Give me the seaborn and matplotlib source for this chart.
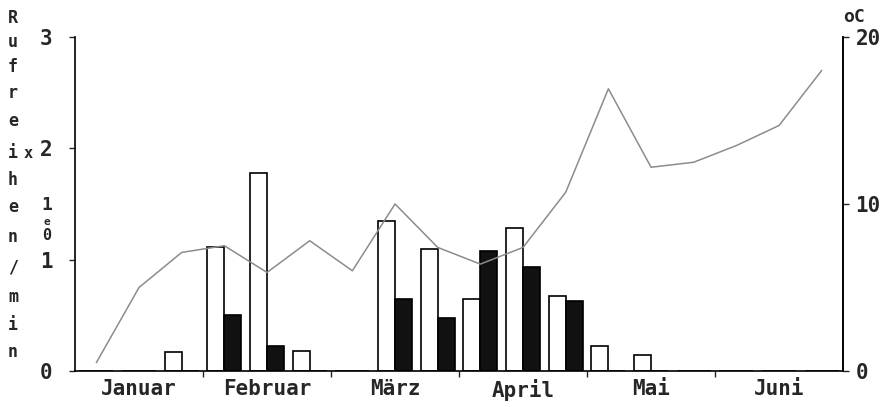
import numpy as np
import pandas as pd
import matplotlib
matplotlib.use('Agg')
import matplotlib.pyplot as plt
import seaborn as sns

# Dekaden Januar bis Juni (3 je Monat)
monate = ['Januar', 'Februar', 'März', 'April', 'Mai', 'Juni']
dekaden = list(range(18))
rufe_offen = [0, 0, 0.17, 1.11, 1.78, 0.18, 0, 1.35, 1.10, 0.65, 1.28, 0.67, 0.22, 0.14, 0, 0, 0, 0]
rufe_voll = [0, 0, 0, 0.50, 0.22, 0, 0, 0.65, 0.48, 1.08, 0.93, 0.63, 0, 0, 0, 0, 0, 0]
temperatur = [0.5, 5.0, 7.1, 7.5, 5.9, 7.8, 6.0, 10.0, 7.4, 6.4, 7.4, 10.7, 16.9, 12.2, 12.5, 13.5, 14.7, 18.0]

df = pd.DataFrame({
    'dekade': dekaden * 2,
    'wert': rufe_offen + rufe_voll,
    'serie': ['offen'] * 18 + ['voll'] * 18,
})

sns.set_style('ticks')
plt.rcParams['font.family'] = ['DejaVu Sans Mono', 'DejaVu Sans']
plt.rcParams['font.weight'] = 'bold'

fig = plt.figure(figsize=(8.91, 4.07), dpi=100)
ax = fig.add_axes([0.0842, 0.0885, 0.862, 0.8206])

sns.barplot(data=df, x='dekade', y='wert', hue='serie', order=dekaden,
            palette={'offen': 'white', 'voll': '#111111'}, edgecolor='black',
            linewidth=1.2, width=0.8, ax=ax, legend=False)

ax2 = ax.twinx()
sns.lineplot(x=dekaden, y=temperatur, ax=ax2, color='#8c8c8c', linewidth=1.1)

ax.set_xlim(-0.5, 17.5)
ax.set_ylim(0, 3)
ax2.set_ylim(0, 20)
ax.set_xlabel('')
ax.set_ylabel('')
ax2.set_ylabel('')

# Monatsgrenzen als Striche, Monatsnamen mittig
ax.set_xticks([2.5, 5.5, 8.5, 11.5, 14.5])
ax.set_xticklabels([])
ax.set_xticks([1, 4, 7, 10, 13, 16], labels=monate, minor=True)
ax.tick_params(axis='x', which='major', length=4, width=1, direction='out')
ax.tick_params(axis='x', which='minor', length=0, pad=6, labelsize=15)

ax.set_yticks([0, 1, 2, 3])
ax.set_yticklabels(['0', '1', '2', '3'])
ax.tick_params(axis='y', length=4, width=1, pad=12, labelsize=15)
ax2.set_yticks([0, 10, 20])
ax2.tick_params(axis='y', length=4, width=1, pad=5, labelsize=15)

for a in (ax, ax2):
    a.spines['top'].set_visible(False)
    for s in ('left', 'right', 'bottom'):
        a.spines[s].set_color('black')
        a.spines[s].set_linewidth(1.2)
ax2.spines['left'].set_visible(False)
ax2.spines['bottom'].set_visible(False)

for lbl in ax.get_xticklabels(minor=True) + ax.get_yticklabels() + ax2.get_yticklabels():
    lbl.set_fontweight('bold')

# senkrechte Achsenbeschriftung, Buchstabe fuer Buchstabe
wort = 'Rufreihen/min'
zeilen = [18, 42, 67, 93, 121, 153, 180, 207, 237, 268, 297, 325, 352]
for ch, yy in zip(wort, zeilen):
    fig.text(13 / 891, 1 - yy / 407, ch, ha='center', va='center',
             fontsize=12, fontweight='bold')
fig.text(28 / 891, 1 - 153 / 407, 'x', ha='center', va='center', fontsize=11, fontweight='bold')
fig.text(47 / 891, 1 - 205 / 407, '1', ha='center', va='center', fontsize=13, fontweight='bold')
fig.text(47 / 891, 1 - 222 / 407, 'e', ha='center', va='center', fontsize=8, fontweight='bold')
fig.text(47 / 891, 1 - 236 / 407, '0', ha='center', va='center', fontsize=11, fontweight='bold')
fig.text(854 / 891, 1 - 17 / 407, 'oC', ha='center', va='center', fontsize=13, fontweight='bold')

fig.savefig('out.png', dpi=100)
